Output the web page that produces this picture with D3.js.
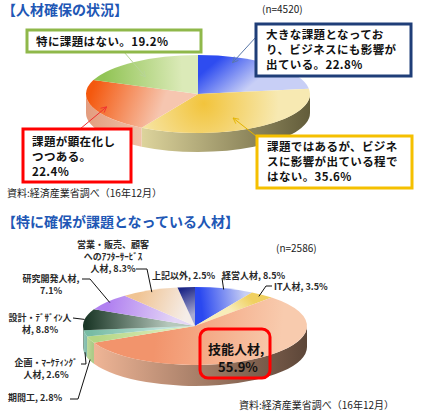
<!DOCTYPE html>
<html>
<head>
<meta charset="utf-8">
<script src="https://cdn.jsdelivr.net/npm/d3@7"></script>
<style>
  body { margin: 0; background: #fff; }
  svg { display: block; font-family: "Noto Sans CJK JP", sans-serif; }
</style>
</head>
<body>
<div id="chart"></div>
<script>
// ---- data ----
var topCategories = ["大きな課題となっており、ビジネスにも影響が出ている", "課題ではあるが、ビジネスに影響が出ている程ではない", "課題が顕在化しつつある", "特に課題はない"];
var topValues = [22.8, 35.6, 22.4, 19.2];
var topLabelLines = [
  ["大きな課題となってお", "り、ビジネスにも影響が", "出ている。{v}%"],
  ["課題ではあるが、ビジネ", "スに影響が出ている程で", "はない。{v}%"],
  ["課題が顕在化し", "つつある。", "{v}%"],
  ["特に課題はない。{v}%"]
];
var topN = "(n=4520)";

var bottomCategories = ["経営人材", "IT人材", "技能人材", "期間工", "企画・ﾏｰｹﾃｨﾝｸﾞ人材", "設計・ﾃﾞｻﾞｲﾝ人材", "研究開発人材", "営業・販売、顧客へのｱﾌﾀｰｻｰﾋﾞｽ人材", "上記以外"];
var bottomValues = [8.5, 3.5, 55.9, 2.8, 2.6, 8.8, 7.1, 8.3, 2.5];
var bottomLabelLines = [
  ["経営人材, {v}%"],
  ["IT人材, {v}%"],
  ["技能人材,", "{v}%"],
  ["期間工, {v}%"],
  ["企画・ﾏｰｹﾃｨﾝｸﾞ", "人材, {v}%"],
  ["設計・ﾃﾞｻﾞｲﾝ人", "材, {v}%"],
  ["研究開発人材,", "{v}%"],
  ["営業・販売、顧客", "へのｱﾌﾀｰｻｰﾋﾞｽ", "人材, {v}%"],
  ["上記以外, {v}%"]
];
var bottomN = "(n=2586)";
var sourceText = "資料:経済産業省調べ（16年12月）";

// ---- styles ----
var topFace = [
  { dark: "#2e4cf0", light: "#c8cff6", d: [12, 0.95], l: [75, 0.45] },
  { dark: "#f2c43c", light: "#f7e9b2", d: [168, 0.25], rad: 75 },
  { dark: "#f4580e", light: "#f6c6b0", d: [288, 0.97], l: [225, 0.45] },
  { dark: "#92c456", light: "#dbeab8", d: [298, 0.95], l: [345, 0.55] }
];
var topSide = [
  ["#7a7e96", "#56566a"],
  ["#ddd49c", "#625c3a"],
  ["#e39c7e", "#f0c2a8"],
  ["#a8c880", "#c8dca8"]
];
var bottomFace = [
  { dark: "#2a48f0", light: "#c8cff4", d: [4, 0.7], l: [28, 0.95] },
  { dark: "#f0d060", light: "#f8ecb8", d: [32, 0.9], l: [42, 0.5] },
  { dark: "#f2946c", light: "#f8cbae", d: [262, 0.35], l: [115, 0.85] },
  { dark: "#b4d684", light: "#d8eab4", d: [246, 0.95], l: [250, 0.3] },
  { dark: "#78bca4", light: "#bce2da", d: [256, 0.95], l: [260, 0.3] },
  { dark: "#1c3828", light: "#b6c8bc", d: [272, 0.97], l: [290, 0.25] },
  { dark: "#b080f0", light: "#e4d6f6", d: [305, 0.95], l: [325, 0.3] },
  { dark: "#f0c494", light: "#f5ede8", d: [328, 0.95], l: [348, 0.35] },
  { dark: "#1c2686", light: "#a8aad2", d: [353, 0.95], l: [358, 0.3] }
];
var bottomSide = [
  ["#8088b8", "#6a70a0"],
  ["#d8c880", "#b8a860"],
  ["#efb596", "#5c4638"],
  ["#bcd898", "#a8c884"],
  ["#90c8b8", "#80b8a8"],
  ["#6e8a7c", "#58705e"],
  ["#a890c8", "#9080b0"],
  ["#e0c8b0", "#c8b098"],
  ["#404890", "#303878"]
];

var W = 423, H = 415;
var svg = d3.select("#chart").append("svg")
  .attr("width", W).attr("height", H);
var defs = svg.append("defs");
var fmt = d3.format(".1f");

function fill(line, v) { return line.replace("{v}", fmt(v)); }

// multi-line text as one element with tspans
function lines(x, y, arr, v, step, size, anchor) {
  var t = svg.append("text").attr("x", x).attr("y", y)
    .attr("font-size", size).attr("font-weight", "bold").attr("fill", "#111")
    .attr("text-anchor", anchor || "start");
  arr.forEach(function(line, j) {
    t.append("tspan").attr("x", x).attr("dy", j ? step : 0).text(fill(line, v));
  });
  return t;
}

// 3D pie: ellipse top faces + visible outer wall
function pie3d(id, values, faces, sides, geo) {
  var g = svg.append("g");
  var arcs = d3.pie().sort(null)(values);
  var px = function(a, r) { return geo.cx + geo.rx * (r == null ? 1 : r) * Math.sin(a); };
  var py = function(a, r) { return geo.cy - geo.ry * (r == null ? 1 : r) * Math.cos(a); };
  var rad = function(deg) { return deg * Math.PI / 180; };

  // walls
  arcs.forEach(function(d, i) {
    var t0 = Math.max(d.startAngle, Math.PI / 2),
        t1 = Math.min(d.endAngle, Math.PI * 3 / 2);
    if (t1 <= t0) return;
    var gid = id + "side" + i;
    var x0 = px(t0), x1 = px(t1);
    var lg = defs.append("linearGradient").attr("id", gid)
      .attr("gradientUnits", "userSpaceOnUse")
      .attr("x1", Math.max(x0, x1)).attr("x2", Math.min(x0, x1))
      .attr("y1", 0).attr("y2", 0);
    lg.append("stop").attr("offset", 0).attr("stop-color", sides[i][1]);
    lg.append("stop").attr("offset", 1).attr("stop-color", sides[i][0]);
    var s = "M" + px(t0) + "," + py(t0) +
      "A" + geo.rx + "," + geo.ry + " 0 0 1 " + px(t1) + "," + py(t1) +
      "L" + px(t1) + "," + (py(t1) + geo.depth) +
      "A" + geo.rx + "," + geo.ry + " 0 0 0 " + px(t0) + "," + (py(t0) + geo.depth) + "Z";
    g.append("path").attr("d", s).attr("fill", "url(#" + gid + ")");
  });

  // top faces
  arcs.forEach(function(d, i) {
    var f = faces[i], gid = id + "face" + i, grad;
    if (f.rad) {
      grad = defs.append("radialGradient").attr("id", gid)
        .attr("gradientUnits", "userSpaceOnUse")
        .attr("cx", px(rad(f.d[0]), f.d[1])).attr("cy", py(rad(f.d[0]), f.d[1]))
        .attr("r", f.rad);
    } else {
      grad = defs.append("linearGradient").attr("id", gid)
        .attr("gradientUnits", "userSpaceOnUse")
        .attr("x1", px(rad(f.d[0]), f.d[1])).attr("y1", py(rad(f.d[0]), f.d[1]))
        .attr("x2", px(rad(f.l[0]), f.l[1])).attr("y2", py(rad(f.l[0]), f.l[1]));
    }
    grad.append("stop").attr("offset", 0).attr("stop-color", f.dark);
    grad.append("stop").attr("offset", 1).attr("stop-color", f.light);
    var large = (d.endAngle - d.startAngle) > Math.PI ? 1 : 0;
    var s = "M" + geo.cx + "," + geo.cy +
      "L" + px(d.startAngle) + "," + py(d.startAngle) +
      "A" + geo.rx + "," + geo.ry + " 0 " + large + " 1 " + px(d.endAngle) + "," + py(d.endAngle) + "Z";
    g.append("path").attr("d", s).attr("fill", "url(#" + gid + ")");
  });

  return { arcs: arcs, px: px, py: py, rad: rad };
}

function title(txt, y) {
  svg.append("text").attr("x", 2).attr("y", y)
    .attr("font-size", 14).attr("font-weight", "bold").attr("fill", "#2157b5")
    .text(txt);
}
function plain(txt, x, y, size, anchor) {
  return svg.append("text").attr("x", x).attr("y", y)
    .attr("font-size", size).attr("fill", "#222")
    .attr("text-anchor", anchor || "start").text(txt);
}

// ---------- upper chart ----------
title("【人材確保の状況】", 15);
plain(topN, 262, 13, 10);

var geoTop = { cx: 198, cy: 94, rx: 112, ry: 39, depth: 19 };
var pt = pie3d("t", topValues, topFace, topSide, geoTop);

// callout boxes and arrows pointing into their slice
var topBoxes = [
  { x: 256, y: 24, w: 155, h: 52, c: "#1f3e78", tx: 266, ty: 39, from: [256, 37], tip: [21, 0.86], ac: "#5a78a8" },
  { x: 257, y: 136, w: 155, h: 52, c: "#f5c000", tx: 267, ty: 151, from: [256, 136], tip: [153, 0.69], ac: "#e4b400" },
  { x: 23, y: 129, w: 108, h: 53, c: "#ff0000", tx: 32, ty: 146, from: [80, 129], tip: [248, 0.88], ac: "#f03030" },
  { x: 27, y: 30, w: 174, h: 22, c: "#8fb84a", tx: 36, ty: 46, from: [124, 52], tip: [313, 0.64], ac: "#b8d498" }
];

topBoxes.forEach(function(b, i) {
  var mid = "ah" + i;
  defs.append("marker").attr("id", mid)
    .attr("viewBox", "0 0 10 10").attr("refX", 9).attr("refY", 5)
    .attr("markerWidth", 7).attr("markerHeight", 7).attr("orient", "auto")
    .append("path").attr("d", "M1,1 L9,5 L1,9")
    .attr("fill", "none").attr("stroke", b.ac).attr("stroke-width", 1.2);
  var a = pt.rad(b.tip[0]);
  svg.append("line")
    .attr("x1", b.from[0]).attr("y1", b.from[1])
    .attr("x2", pt.px(a, b.tip[1])).attr("y2", pt.py(a, b.tip[1]))
    .attr("stroke", b.ac).attr("stroke-width", 1)
    .attr("marker-end", "url(#" + mid + ")");
  svg.append("rect").attr("x", b.x).attr("y", b.y)
    .attr("width", b.w).attr("height", b.h)
    .attr("fill", "#fff").attr("stroke", b.c).attr("stroke-width", 3);
  lines(b.tx, b.ty, topLabelLines[i], topValues[i], 15, 11.5)
    .attr("letter-spacing", 0.4);
});

plain(sourceText, 7, 197, 10);

// ---------- lower chart ----------
title("【特に確保が課題となっている人材】", 227);
plain(bottomN, 276, 252, 10);

var geoBot = { cx: 195, cy: 326, rx: 112, ry: 39, depth: 21 };
var pb = pie3d("b", bottomValues, bottomFace, bottomSide, geoBot);

// label layout: text position, leader start points, leader end on the slice (radius, wall fraction)
var bottomLabels = [
  { x: 222, y: 279, a: "start", lead: [[222, 278]], r: 0.97, z: 0 },
  { x: 274, y: 290, a: "start", lead: [[272, 286], [266, 286]], r: 0.95, z: 0 },
  null,
  { x: 8, y: 401, a: "start", lead: [[70, 399], [78, 399]], r: 1, z: 0.95 },
  { x: 46, y: 366, a: "middle", lead: [[81, 364], [86, 364]], r: 1, z: 0.9 },
  { x: 40, y: 321, a: "middle", lead: [[73, 318]], r: 1, z: 0 },
  { x: 51, y: 282, a: "middle", lead: [[82, 279], [90, 279]], r: 0.97, z: 0 },
  { x: 113, y: 248, a: "middle", lead: [[136, 269], [147, 269]], r: 0.95, z: 0 },
  { x: 152, y: 279, a: "start", lead: null }
];

bottomLabels.forEach(function(L, i) {
  if (!L) return;
  var d = pb.arcs[i];
  if (L.lead) {
    var m = (d.startAngle + d.endAngle) / 2;
    var pts = L.lead.concat([[pb.px(m, L.r), pb.py(m, L.r) + L.z * geoBot.depth]]);
    svg.append("path").attr("d", d3.line()(pts))
      .attr("fill", "none").attr("stroke", "#111").attr("stroke-width", 1);
  }
  lines(L.x, L.y, bottomLabelLines[i], bottomValues[i], 12, 9, L.a)
    .attr("fill", "#2a2a2a");
});

// highlighted label for the biggest slice
svg.append("rect").attr("x", 200).attr("y", 329).attr("width", 70).attr("height", 49)
  .attr("rx", 8).attr("fill", "none").attr("stroke", "#ff0000").attr("stroke-width", 3);
var big = lines(236, 354, bottomLabelLines[2], bottomValues[2], 18, 13, "middle");
big.selectAll("tspan").filter(function(d, j) { return j === 1; }).attr("x", 238);

plain(sourceText, 239, 409, 10);
</script>
</body>
</html>
